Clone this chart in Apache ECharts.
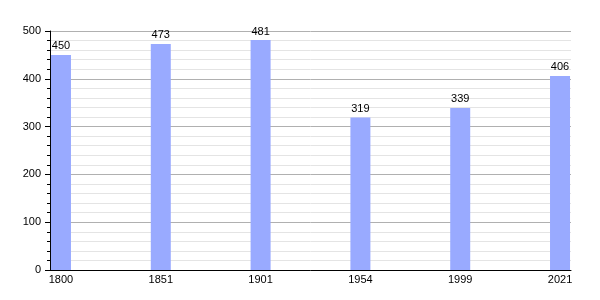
<!DOCTYPE html>
<html>
<head>
<meta charset="utf-8">
<script src="https://cdn.jsdelivr.net/npm/echarts@6/dist/echarts.min.js"></script>
<style>html,body{margin:0;padding:0;background:#fff}#c{width:600px;height:300px}</style>
</head>
<body>
<div id="c"></div>
<script>
var years = ['1800', '1851', '1901', '1954', '1999', '2021'];
var population = [450, 473, 481, 319, 339, 406];
var yTicks = [0, 100, 200, 300, 400, 500];

var positions = years.map(function (y, i) { return i; });
var seriesData = population.map(function (v, i) { return [positions[i], v]; });

var chart = echarts.init(document.getElementById('c'), null, { renderer: 'canvas' });
chart.setOption({
  animation: false,
  backgroundColor: '#ffffff',
  textStyle: { fontFamily: 'Liberation Sans, Arial, sans-serif' },
  grid: { left: 50, right: 29, top: 31, bottom: 30, containLabel: false },
  xAxis: {
    type: 'value',
    min: -0.11,
    max: 5.11,
    axisLine: { show: true, onZero: false, lineStyle: { color: '#000', width: 1 } },
    axisTick: { show: false },
    splitLine: { show: false },
    axisLabel: {
      customValues: positions,
      color: '#000',
      fontSize: 11,
      margin: 4,
      formatter: function (v) { var i = Math.round(v); return years[i] || ''; }
    }
  },
  yAxis: {
    type: 'value',
    min: 0,
    max: 500,
    interval: 100,
    axisLine: { show: true, onZero: false, lineStyle: { color: '#000', width: 1 } },
    axisTick: { show: true, length: 5, lineStyle: { color: '#000' } },
    minorTick: { show: true, splitNumber: 5, length: 3, lineStyle: { color: '#000' } },
    splitLine: { show: true, lineStyle: { color: '#b0b0b0', width: 1 } },
    minorSplitLine: { show: true, lineStyle: { color: '#e4e4e4', width: 1 } },
    axisLabel: {
      color: '#000',
      fontSize: 11,
      margin: 9
    }
  },
  series: [{
    type: 'bar',
    data: seriesData,
    barWidth: 20,
    itemStyle: { color: '#99aaff' },
    label: {
      show: true,
      position: 'top',
      distance: 3,
      color: '#000',
      fontSize: 11,
      formatter: function (p) { return p.value[1]; }
    }
  }]
});
</script>
</body>
</html>
